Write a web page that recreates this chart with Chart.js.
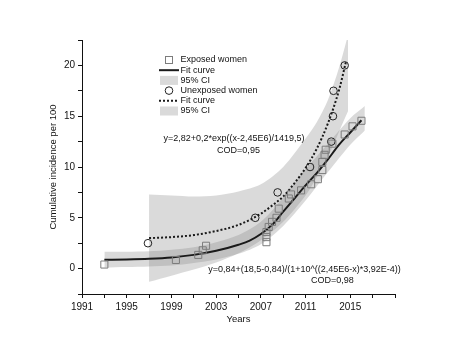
<!DOCTYPE html>
<html>
<head>
<meta charset="utf-8">
<script src="https://cdn.jsdelivr.net/npm/chart.js@4.4.1/dist/chart.umd.min.js"></script>
<style>
    html, body { margin: 0; padding: 0; background: #fff; }
    canvas { display: block; }
</style>
</head>
<body>
<canvas id="chart" width="459" height="351"></canvas>
<script>
'use strict';

// exposed women (squares)
const exposedYears = [1993.0, 1999.4, 2001.4, 2001.8, 2002.1, 2007.5, 2007.5, 2007.5, 2007.7, 2008.0,
    2008.4, 2008.6, 2009.5, 2009.7, 2010.6, 2011.5, 2012.1, 2012.5, 2012.5, 2012.7,
    2012.8, 2013.4, 2014.5, 2015.2, 2016.0];
const exposedValues = [0.4, 0.85, 1.35, 1.8, 2.25, 2.6, 3.1, 3.6, 4.1, 4.6,
    5.0, 5.9, 6.9, 7.3, 7.7, 8.3, 8.8, 9.7, 10.5, 11.2,
    11.7, 12.3, 13.2, 14.0, 14.55];

// unexposed women (circles)
const unexposedYears = [1996.9, 2006.5, 2008.5, 2011.4, 2013.3, 2013.45, 2013.5, 2014.5];
const unexposedValues = [2.5, 5.0, 7.5, 10.0, 12.5, 15.0, 17.5, 20.0];

// fit curves
const exposedFitYears = [1993, 1995, 1997, 1999, 2001, 2003, 2005, 2006, 2007, 2008, 2009, 2010, 2011, 2012, 2013, 2014, 2015, 2016];
const exposedFitValues = [0.86, 0.9, 0.97, 1.1, 1.35, 1.75, 2.35, 2.75, 3.4, 4.3, 5.6, 6.9, 8.2, 9.4, 10.75, 12.2, 13.4, 14.6];

const unexposedFitYears = [1997, 1999, 2001, 2003, 2005, 2007, 2008, 2009, 2010, 2011, 2012, 2013, 2014, 2014.6];
const unexposedFitValues = [3.0, 3.1, 3.3, 3.7, 4.3, 5.4, 6.2, 7.1, 8.4, 9.9, 11.8, 14.3, 17.6, 20.3];

// 95% confidence bands
const exposedCIYears = [1993, 1995, 1997, 1999, 2001, 2003, 2005, 2007, 2009, 2011, 2013, 2015, 2016.3];
const exposedCILow = [0.1, 0.15, 0.2, 0.3, 0.55, 0.9, 1.45, 2.4, 4.2, 6.7, 9.5, 12.2, 13.6];
const exposedCIHigh = [1.65, 1.65, 1.7, 1.85, 2.1, 2.6, 3.3, 4.6, 7.0, 9.8, 12.3, 14.8, 16.0];

const unexposedCIYears = [1997, 1999, 2001, 2003, 2005, 2007, 2009, 2011, 2012, 2013, 2014, 2014.8];
const unexposedCILow = [-1.3, -0.7, -0.1, 0.6, 1.5, 2.8, 4.6, 7.2, 9.0, 11.0, 13.5, 15.5];
const unexposedCIHigh = [7.3, 7.2, 7.1, 7.2, 7.6, 8.3, 10.0, 12.8, 14.4, 16.6, 19.8, 23.0];

// axes
const xTickValues = [1991, 1993, 1995, 1997, 1999, 2001, 2003, 2005, 2007, 2009, 2011, 2013, 2015, 2017, 2019];
const xTickLabels = ['1991', '1995', '1999', '2003', '2007', '2011', '2015'];
const yTickValues = [-2.5, 0, 2.5, 5, 7.5, 10, 12.5, 15, 17.5, 20, 22.5];
const yTickLabels = ['0', '5', '10', '15', '20'];

const annotations = [
    { text: 'y=2,82+0,2*exp((x-2,45E6)/1419,5)', x: 2004.6, y: 12.85 },
    { text: 'COD=0,95', x: 2005.0, y: 11.6 },
    { text: 'y=0,84+(18,5-0,84)/(1+10^((2,45E6-x)*3,92E-4))', x: 2010.9, y: -0.05 },
    { text: 'COD=0,98', x: 2013.4, y: -1.15 },
];

const FONT = '"Liberation Sans", Arial, sans-serif';
const BAND = 'rgba(128, 128, 128, 0.29)';

function pairs(xs, ys) {
    return xs.map((x, i) => ({ x: x, y: ys[i] }));
}

const bandEdge = {
    type: 'line',
    borderWidth: 0,
    pointRadius: 0,
    tension: 0.3,
    order: 5,
};

const datasets = [
    Object.assign({}, bandEdge, { label: 'exposed low', data: pairs(exposedCIYears, exposedCILow), fill: false }),
    Object.assign({}, bandEdge, { label: '95% CI', data: pairs(exposedCIYears, exposedCIHigh), fill: '-1', backgroundColor: BAND }),
    Object.assign({}, bandEdge, { label: 'unexposed low', data: pairs(unexposedCIYears, unexposedCILow), fill: false }),
    Object.assign({}, bandEdge, { label: '95% CI', data: pairs(unexposedCIYears, unexposedCIHigh), fill: '-1', backgroundColor: BAND }),
    {
        type: 'line',
        label: 'Fit curve',
        data: pairs(exposedFitYears, exposedFitValues),
        borderColor: '#1a1a1a',
        borderWidth: 2,
        pointRadius: 0,
        cubicInterpolationMode: 'monotone',
        fill: false,
        order: 3,
    },
    {
        type: 'line',
        label: 'Fit curve',
        data: pairs(unexposedFitYears, unexposedFitValues),
        borderColor: '#1a1a1a',
        borderWidth: 2,
        borderDash: [2, 2],
        pointRadius: 0,
        cubicInterpolationMode: 'monotone',
        fill: false,
        order: 3,
    },
    {
        type: 'line',
        label: 'Exposed women',
        data: pairs(exposedYears, exposedValues),
        showLine: false,
        pointStyle: 'rect',
        pointRadius: 5,
        pointBorderWidth: 1,
        pointBorderColor: '#7c7c7c',
        pointBackgroundColor: 'rgba(255,255,255,0)',
        order: 1,
    },
    {
        type: 'line',
        label: 'Unexposed women',
        data: pairs(unexposedYears, unexposedValues),
        showLine: false,
        pointStyle: 'circle',
        pointRadius: 3.8,
        pointBorderWidth: 1,
        pointBorderColor: '#222',
        pointBackgroundColor: 'rgba(255,255,255,0)',
        order: 1,
    },
];

// legend rows: which dataset and how to draw its symbol
const legendRows = [
    { ds: 6, kind: 'square' },
    { ds: 4, kind: 'solid' },
    { ds: 1, kind: 'box' },
    { ds: 7, kind: 'circle' },
    { ds: 5, kind: 'dotted' },
    { ds: 3, kind: 'box' },
];

const originLegend = {
    id: 'originLegend',
    afterDraw(chart) {
        const ctx = chart.ctx;
        ctx.save();
        ctx.font = '9px ' + FONT;
        ctx.textBaseline = 'middle';
        ctx.textAlign = 'left';
        legendRows.forEach((row, i) => {
            const y = 60 + i * 10.2;
            const cx = 169;
            ctx.setLineDash([]);
            if (row.kind === 'square') {
                ctx.strokeStyle = '#7c7c7c';
                ctx.lineWidth = 1;
                ctx.strokeRect(cx - 3.5, y - 3.5, 7, 7);
            } else if (row.kind === 'circle') {
                ctx.strokeStyle = '#222';
                ctx.lineWidth = 1;
                ctx.beginPath();
                ctx.arc(cx, y, 3.8, 0, Math.PI * 2);
                ctx.stroke();
            } else if (row.kind === 'box') {
                ctx.fillStyle = 'rgb(218,218,218)';
                ctx.fillRect(160, y - 4.5, 18, 9);
            } else {
                ctx.strokeStyle = '#1a1a1a';
                ctx.lineWidth = 2;
                if (row.kind === 'dotted') ctx.setLineDash([2, 2]);
                ctx.beginPath();
                ctx.moveTo(159, y);
                ctx.lineTo(179, y);
                ctx.stroke();
            }
            ctx.setLineDash([]);
            ctx.fillStyle = '#111';
            ctx.fillText(chart.data.datasets[row.ds].label, 180.5, y);
        });
        ctx.restore();
    }
};

const equationText = {
    id: 'equationText',
    afterDraw(chart) {
        const ctx = chart.ctx;
        const xs = chart.scales.x;
        const ys = chart.scales.y;
        ctx.save();
        ctx.font = '9px ' + FONT;
        ctx.fillStyle = '#111';
        ctx.textAlign = 'center';
        ctx.textBaseline = 'middle';
        annotations.forEach(a => {
            ctx.fillText(a.text, xs.getPixelForValue(a.x), ys.getPixelForValue(a.y));
        });
        ctx.restore();
    }
};

const axisGrid = {
    display: true,
    drawOnChartArea: false,
    drawTicks: true,
    tickLength: 4,
    color: '#111',
    tickColor: '#111',
};

new Chart(document.getElementById('chart'), {
    type: 'line',
    data: { datasets: datasets },
    options: {
        responsive: false,
        animation: false,
        layout: { padding: { left: 45, right: 64, top: 40, bottom: 26 } },
        plugins: {
            legend: { display: false },
            tooltip: { enabled: false },
        },
        scales: {
            x: {
                type: 'linear',
                min: 1991,
                max: 2019,
                grid: axisGrid,
                border: { display: true, color: '#111', width: 1 },
                afterBuildTicks: scale => { scale.ticks = xTickValues.map(v => ({ value: v })); },
                afterFit: scale => { scale.height = 31; },
                ticks: {
                    autoSkip: false,
                    maxRotation: 0,
                    padding: 3,
                    color: '#111',
                    font: { family: FONT, size: 10 },
                    callback: v => xTickLabels.includes(String(v)) ? String(v) : '',
                },
                title: {
                    display: true,
                    text: 'Years',
                    color: '#111',
                    padding: { top: 0, bottom: 0 },
                    font: { family: FONT, size: 9.5 },
                },
            },
            y: {
                type: 'linear',
                min: -2.5,
                max: 22.5,
                grid: axisGrid,
                border: { display: true, color: '#111', width: 1 },
                afterBuildTicks: scale => { scale.ticks = yTickValues.map(v => ({ value: v })); },
                afterFit: scale => { scale.width = 37; },
                ticks: {
                    autoSkip: false,
                    padding: 3,
                    color: '#111',
                    font: { family: FONT, size: 10 },
                    callback: v => yTickLabels.includes(String(v)) ? String(v) : '',
                },
                title: {
                    display: true,
                    text: 'Cumulative incidence per 100',
                    color: '#111',
                    padding: { top: 3, bottom: 0 },
                    font: { family: FONT, size: 9.5 },
                },
            },
        },
    },
    plugins: [originLegend, equationText],
});
</script>
</body>
</html>
